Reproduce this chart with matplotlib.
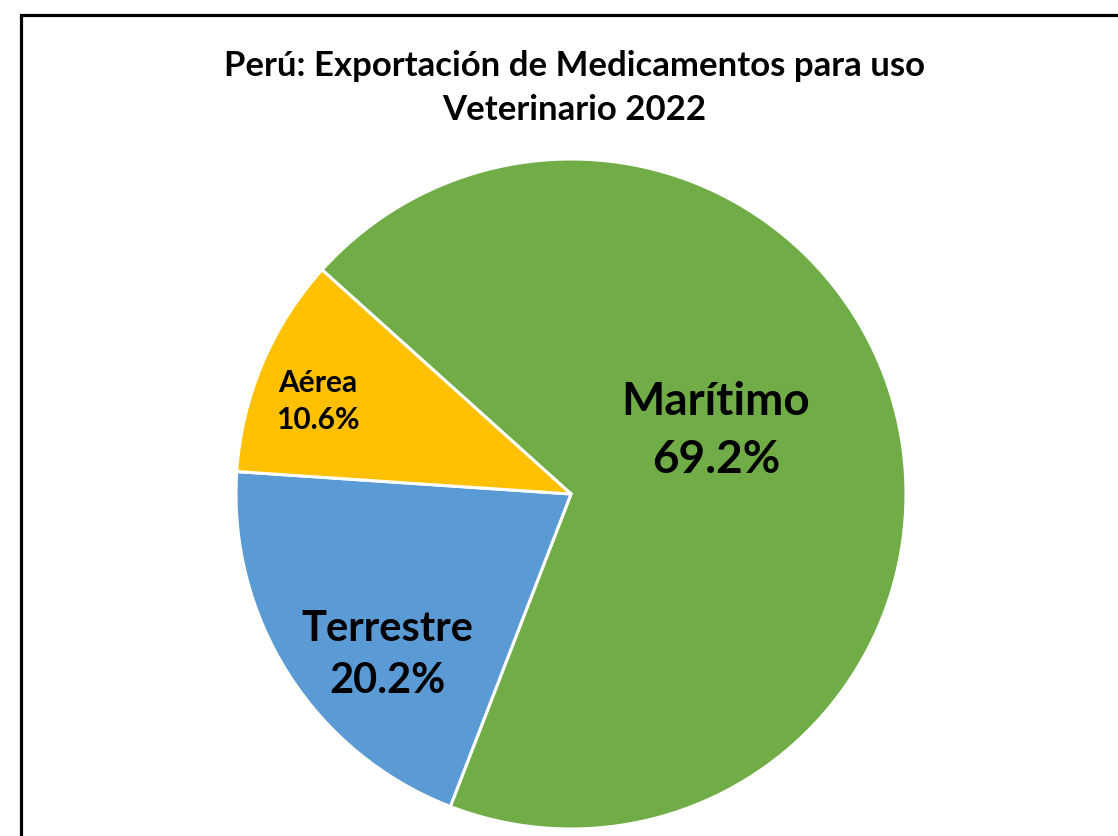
import matplotlib
matplotlib.use("Agg")
import matplotlib.pyplot as plt
from matplotlib.patches import Rectangle

labels = ["Marítimo", "Terrestre", "Aérea"]
shares = [69.2, 20.2, 10.6]
colors = ["#70AD47", "#5B9BD5", "#FFC000"]

plt.rcParams["font.family"] = ["Lato", "DejaVu Sans"]

W, H = 1118, 837
fig = plt.figure(figsize=(W / 100, H / 100), dpi=100)

# pie centred at (571, 495) px, radius 335 px
cx, cy, r = 571, 495, 335
ax = fig.add_axes([(cx - r) / W, (H - cy - r) / H, 2 * r / W, 2 * r / H])
ax.pie(shares, colors=colors, startangle=138, counterclock=False,
       wedgeprops=dict(edgecolor="white", linewidth=2.2))
ax.set_xlim(-1, 1); ax.set_ylim(-1, 1)
ax.set_aspect("equal")
ax.axis("off")

# label positions (data coords), font sizes, line spacing
lab_pos = [(0.433, 0.19), (-0.549, -0.478), (-0.755, 0.28)]
lab_size = [33, 30, 21.5]
lab_ls = [1.47, 1.46, 1.4]
for name, v, (x, y), fs, ls in zip(labels, shares, lab_pos, lab_size, lab_ls):
    ax.text(x, y, f"{name}\n{v:.1f}%", ha="center", va="center",
            fontsize=fs, fontweight="bold", linespacing=ls)

fig.text(574 / W, 1 - 88 / H,
         "Perú: Exportación de Medicamentos para uso\nVeterinario 2022",
         ha="center", va="center", fontsize=25, fontweight="bold",
         linespacing=1.5)

# outer frame (runs off the right and bottom edge)
fig.patches.append(Rectangle((20.5 / W, -0.1), 1.2, (H - 15.5) / H + 0.1,
                             transform=fig.transFigure, fill=False,
                             edgecolor="black", linewidth=2.3))

fig.savefig("out.png", dpi=100)
